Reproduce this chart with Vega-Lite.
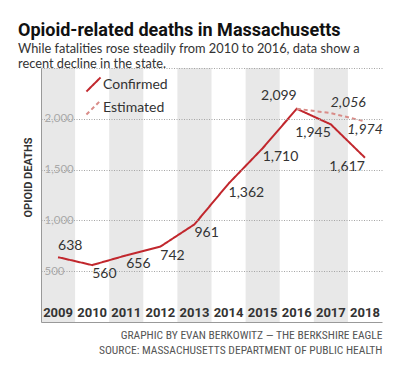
{
  "$schema": "https://vega.github.io/schema/vega-lite/v6.json",
  "width": 341,
  "height": 254,
  "autosize": {"type": "none"},
  "padding": {"left": 41, "top": 68, "right": 18, "bottom": 52},
  "title": {
    "text": "Opioid-related deaths in Massachusetts",
    "subtitle": ["While fatalities rose steadily from 2010 to 2016, data show a", "recent decline in the state."],
    "anchor": "start",
    "frame": "group",
    "dx": -23,
    "offset": -3,
    "font": "Roboto",
    "fontSize": 18,
    "fontWeight": "bold",
    "color": "#111",
    "subtitleFont": "Lato",
    "subtitleFontSize": 12.8,
    "subtitleColor": "#333",
    "subtitlePadding": 3,
    "subtitleLineHeight": 15
  },
  "data": {
    "values": [
      {"year": 2009, "series": "Confirmed", "deaths": 638},
      {"year": 2010, "series": "Confirmed", "deaths": 560},
      {"year": 2011, "series": "Confirmed", "deaths": 656},
      {"year": 2012, "series": "Confirmed", "deaths": 742},
      {"year": 2013, "series": "Confirmed", "deaths": 961},
      {"year": 2014, "series": "Confirmed", "deaths": 1362},
      {"year": 2015, "series": "Confirmed", "deaths": 1710},
      {"year": 2016, "series": "Confirmed", "deaths": 2099},
      {"year": 2017, "series": "Confirmed", "deaths": 1945},
      {"year": 2018, "series": "Confirmed", "deaths": 1617},
      {"year": 2016, "series": "Estimated", "deaths": 2099},
      {"year": 2017, "series": "Estimated", "deaths": 2056},
      {"year": 2018, "series": "Estimated", "deaths": 1974}
    ]
  },
  "encoding": {
    "x": {
      "field": "year",
      "type": "ordinal",
      "scale": {"type": "band", "paddingInner": 0, "paddingOuter": 0},
      "axis": {
        "title": ["GRAPHIC BY EVAN BERKOWITZ — THE BERKSHIRE EAGLE", "SOURCE: MASSACHUSETTS DEPARTMENT OF PUBLIC HEALTH"],
        "labelAngle": 0,
        "labelFont": "Roboto",
        "labelFontWeight": "bold",
        "labelFontSize": 13,
        "labelColor": "#333",
        "labelPadding": -6,
        "labelBaseline": "alphabetic",
        "ticks": false,
        "tickSize": 0,
        "domainColor": "#999",
        "grid": false,
        "titleFont": "Roboto Condensed, DejaVu Sans Condensed, Liberation Sans Narrow, Roboto",
        "titleFontSize": 11.5,
        "titleFontWeight": "normal",
        "titleColor": "#555",
        "titleAnchor": "end",
        "titleAlign": "right",
        "titleBaseline": "top",
        "titleY": 7,
        "titleLineHeight": 15,
        "zindex": 1
      }
    },
    "y": {
      "field": "deaths",
      "type": "quantitative",
      "title": "OPIOID DEATHS",
      "scale": {"domain": [0, 2500], "nice": false},
      "axis": {
        "values": [500, 1000, 1500, 2000, 2500],
        "labelExpr": "datum.value == 2500 ? '' : datum.label",
        "grid": true,
        "gridDash": [1, 1.5],
        "gridColor": "#a5a5a5",
        "domainColor": "#999",
        "ticks": false,
        "tickSize": 0,
        "labelAlign": "left",
        "labelBaseline": "middle",
        "labelPadding": -3,
        "labelColor": "#aaa",
        "labelFont": "Lato",
        "labelFontSize": 11.5,
        "titleX": -13,
        "titleY": 109,
        "titleAngle": 270,
        "titleAlign": "center",
        "titleBaseline": "middle",
        "titleFont": "Roboto",
        "titleFontSize": 11,
        "titleFontWeight": "bold",
        "titleColor": "#333",
        "zindex": 1
      }
    }
  },
  "layer": [
    {
      "transform": [{"filter": "datum.series == 'Confirmed' && datum.year % 2 == 1"}],
      "mark": {"type": "rect", "color": "#e8e8e8"},
      "encoding": {
        "y": {"datum": 0, "type": "quantitative", "title": "OPIOID DEATHS"},
        "y2": {"datum": 2500}
      }
    },
    {
      "mark": {"type": "line", "strokeWidth": 2},
      "encoding": {
        "color": {
          "field": "series",
          "type": "nominal",
          "title": null,
          "scale": {"domain": ["Confirmed", "Estimated"], "range": ["#c1272d", "#d98c88"]}
        },
        "strokeDash": {
          "field": "series",
          "type": "nominal",
          "title": null,
          "scale": {"domain": ["Confirmed", "Estimated"], "range": [[1, 0], [4, 3]]}
        }
      }
    },
    {
      "transform": [{"filter": "datum.series == 'Confirmed' && datum.year >= 2010 && datum.year <= 2015"}],
      "mark": {"type": "text", "align": "left", "baseline": "middle", "dy": 9, "font": "Lato", "fontSize": 14, "color": "#333"},
      "encoding": {
        "text": {"field": "deaths", "type": "quantitative", "format": ","}
      }
    },
    {
      "transform": [{"filter": "datum.series == 'Confirmed' && datum.year == 2009"}],
      "mark": {"type": "text", "align": "left", "baseline": "middle", "dy": -11, "font": "Lato", "fontSize": 14, "color": "#333"},
      "encoding": {
        "text": {"field": "deaths", "type": "quantitative", "format": ","}
      }
    },
    {
      "transform": [{"filter": "datum.series == 'Confirmed' && datum.year == 2016"}],
      "mark": {"type": "text", "align": "right", "baseline": "middle", "dy": -13, "font": "Lato", "fontSize": 14, "color": "#333"},
      "encoding": {
        "text": {"field": "deaths", "type": "quantitative", "format": ","}
      }
    },
    {
      "transform": [{"filter": "datum.series == 'Confirmed' && datum.year >= 2017"}],
      "mark": {"type": "text", "align": "right", "baseline": "middle", "dy": 9, "font": "Lato", "fontSize": 14, "color": "#333"},
      "encoding": {
        "text": {"field": "deaths", "type": "quantitative", "format": ","}
      }
    },
    {
      "transform": [{"filter": "datum.series == 'Estimated' && datum.year == 2017"}],
      "mark": {"type": "text", "align": "left", "baseline": "middle", "dy": -10, "font": "Lato", "fontSize": 14, "fontStyle": "italic", "color": "#333"},
      "encoding": {
        "text": {"field": "deaths", "type": "quantitative", "format": ","}
      }
    },
    {
      "transform": [{"filter": "datum.series == 'Estimated' && datum.year == 2018"}],
      "mark": {"type": "text", "align": "center", "baseline": "middle", "dy": 9, "font": "Lato", "fontSize": 14, "fontStyle": "italic", "color": "#333"},
      "encoding": {
        "text": {"field": "deaths", "type": "quantitative", "format": ","}
      }
    },
    {
      "data": {"values": [{"label": "YEAR"}]},
      "mark": {"type": "text", "angle": 270, "align": "center", "baseline": "middle", "dy": -30, "font": "Roboto", "fontSize": 11, "fontWeight": "bold", "color": "#333"},
      "encoding": {
        "x": {"datum": 2009, "type": "ordinal"},
        "y": {"datum": 167, "type": "quantitative", "title": "OPIOID DEATHS"},
        "text": {"field": "label", "type": "nominal"}
      }
    }
  ],
  "config": {
    "view": {"stroke": null},
    "legend": {
      "orient": "none",
      "legendX": 44,
      "legendY": 8,
      "symbolType": "M-1,1L1,-1",
      "symbolSize": 200,
      "symbolStrokeWidth": 2,
      "labelFont": "Lato",
      "labelFontSize": 14,
      "labelColor": "#333",
      "padding": 0,
      "rowPadding": 0,
      "labelOffset": 1
    }
  }
}
